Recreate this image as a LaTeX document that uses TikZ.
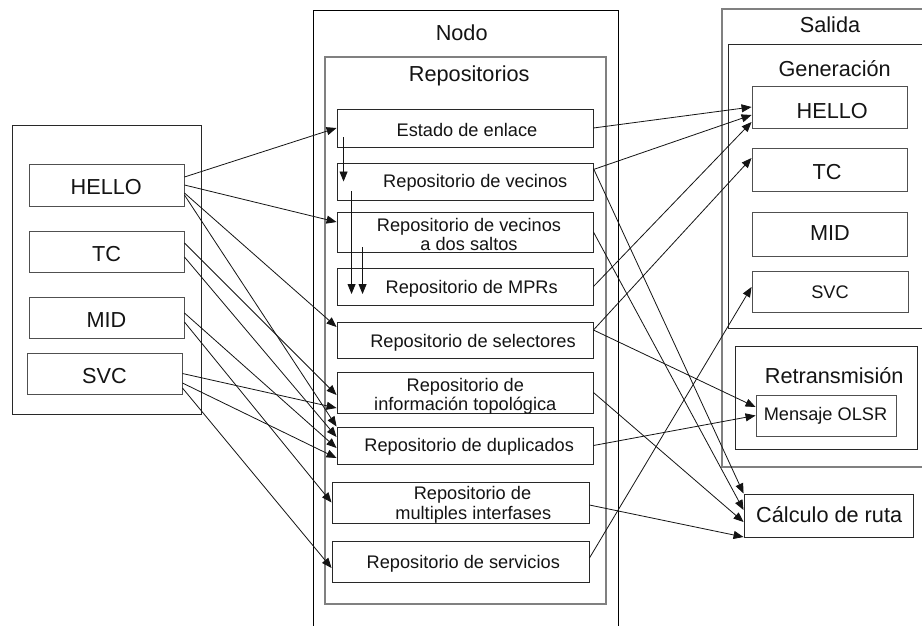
\documentclass[tikz,border=0pt]{standalone}
\usepackage{fontspec}
\setmainfont{Liberation Sans}
\usetikzlibrary{arrows.meta}

\definecolor{frame}{RGB}{40,40,40}
\definecolor{soft}{RGB}{128,128,128}
\definecolor{mid}{RGB}{80,80,80}
\definecolor{ink}{RGB}{20,20,20}

\tikzset{
  box/.style={draw=frame, rectangle, inner sep=0pt, line width=0.9pt},
  softbox/.style={box, draw=soft, line width=1.2pt},
  midbox/.style={box, draw=mid},
  wh/.style 2 args={minimum width=#1pt, minimum height=#2pt},
  txt/.style={inner sep=0pt, anchor=base, text=ink, font=\fontsize{18.2}{20}\selectfont},
  big/.style={txt, font=\fontsize{21.7}{24}\selectfont},
  arr/.style={draw=ink, line width=0.8pt, -{Triangle[length=10pt,width=8pt]}}
}

\begin{document}
\begin{tikzpicture}[x=1pt,y=-1pt]
\useasboundingbox (0,0) rectangle (922,625);
\fill[white] (0,0) rectangle (922,625);
\clip (0,0) rectangle (922,625);

% incoming messages
\node[box, wh={189}{289}] (entrada) at (106.5,269.5) {};
\node[midbox, wh={155}{42}] (lHELLO) at (106.5,185) {};
\node[midbox, wh={155}{41}] (lTC) at (106.5,251.5) {};
\node[midbox, wh={155}{41}] (lMID) at (106.5,317.5) {};
\node[midbox, wh={155}{41}] (lSVC) at (104.5,373.5) {};
\node[big] (t-lHELLO) at (106.2,194.3) {HELLO};
\node[big] (t-lTC) at (106.5,261) {TC};
\node[big] (t-lMID) at (106.5,327) {MID};
\node[big] (t-lSVC) at (104.5,383) {SVC};

% node and its repositories
\node[box, draw=black, wh={305}{690}] (nodo) at (465.5,355) {};
\node[big] (t-nodo) at (461.7,40.7) {Nodo};
\node[softbox, wh={281}{547}] (repos) at (465.5,330.5) {};
\node[big] (t-repos) at (469.2,81.7) {Repositorios};

\node[box, wh={256}{38}] (est) at (465,128) {};
\node[box, wh={256}{37}] (vec) at (465,181.5) {};
\node[box, wh={256}{40}] (dos) at (465,232) {};
\node[box, wh={256}{37}] (mpr) at (465,286.5) {};
\node[box, wh={256}{36}] (sel) at (465,340) {};
\node[box, wh={256}{41}] (top) at (465,392.5) {};
\node[box, wh={256}{37}] (dup) at (465,445.5) {};
\node[box, wh={257}{41}] (mul) at (460.5,502.5) {};
\node[box, wh={257}{41}] (ser) at (460.5,561.5) {};

\node[txt] (t-est) at (467,136) {Estado de enlace};
\node[txt] (t-vec) at (475.3,187.7) {Repositorio de vecinos};
\node[txt] (t-dos1) at (469,231.3) {Repositorio de vecinos};
\node[txt] (t-dos2) at (469,250.7) {a dos saltos};
\node[txt] (t-mpr) at (471.7,293.3) {Repositorio de MPRs};
\node[txt] (t-sel) at (473,347.7) {Repositorio de selectores};
\node[txt] (t-top1) at (465.3,391.7) {Repositorio de};
\node[txt] (t-top2) at (465.3,410.7) {información topológica};
\node[txt] (t-dup) at (469.2,451.7) {Repositorio de duplicados};
\node[txt] (t-mul1) at (472.5,499) {Repositorio de};
\node[txt] (t-mul2) at (473.3,519) {multiples interfases};
\node[txt] (t-ser) at (463.3,568.3) {Repositorio de servicios};

% output side
\node[softbox, wh={278}{458}] (salida) at (861,238) {};
\node[big] (t-salida) at (830,32) {Salida};
\node[box, wh={272}{284}] (gen) at (864,186) {};
\node[big] (t-gen) at (834.7,76.7) {Generación};
\node[midbox, wh={155}{42}] (oHELLO) at (829.5,107) {};
\node[midbox, wh={155}{43}] (oTC) at (829.5,169.5) {};
\node[midbox, wh={155}{44}] (oMID) at (829.5,234) {};
\node[midbox, wh={156}{41}] (oSVC) at (830,291.5) {};
\node[big] (t-oHELLO) at (832.3,118.3) {HELLO};
\node[big] (t-oTC) at (827,179) {TC};
\node[big] (t-oMID) at (830,240) {MID};
\node[txt] (t-oSVC) at (830,298.5) {SVC};

\node[box, wh={182}{103}] (retx) at (826,397.5) {};
\node[big] (t-retx) at (834.2,383.3) {Retransmisión};
\node[midbox, wh={140}{41}] (msg) at (826,415.5) {};
\node[txt] (t-msg) at (825.5,420) {Mensaje OLSR};
\node[box, wh={169}{43}] (calc) at (828.5,515.5) {};
\node[big] (t-calc) at (829.2,522.7) {Cálculo de ruta};

% messages feeding the repositories
\draw[arr] ([yshift=8pt]lHELLO.east) -- (est.west);
\draw[arr] (lHELLO.east) -- ([yshift=10pt]dos.west);
\draw[arr] ([yshift=-8pt]lHELLO.east) -- ([yshift=13pt]sel.west);
\draw[arr] ([yshift=-10pt]lHELLO.east) -- ([yshift=19pt]dup.west);
\draw[arr] ([yshift=8.5pt]lTC.east) -- ([yshift=-2.5pt]top.west);
\draw[arr] ([yshift=-5.5pt]lTC.east) -- ([yshift=8.5pt]dup.west);
\draw[arr] ([yshift=4.5pt]lMID.east) -- ([yshift=-2.5pt]dup.west);
\draw[arr] ([yshift=-4.5pt]lMID.east) -- (mul.west);
\draw[arr] (lSVC.east) -- ([yshift=-15.5pt]top.west);
\draw[arr] ([yshift=-9.5pt]lSVC.east) -- ([yshift=-12.5pt]dup.west);
\draw[arr] ([yshift=-14.5pt]lSVC.east) -- ([yshift=-6.5pt]ser.west);

% links between repositories
\draw[arr] ([xshift=7pt,yshift=-9pt]est.west) -- ([xshift=7pt]vec.west);
\draw[arr] ([xshift=15pt,yshift=-9.5pt]vec.west) -- ([xshift=15pt,yshift=-7.5pt]mpr.west);
\draw[arr] ([xshift=26pt,yshift=-15pt]dos.west) -- ([xshift=26pt,yshift=-7.5pt]mpr.west);

% repositories feeding the outputs
\draw[arr] (est.east) -- (oHELLO.west);
\draw[arr] ([yshift=12pt]vec.east) -- ([yshift=-8pt]oHELLO.west);
\draw[arr] (mpr.east) -- ([yshift=-15pt]oHELLO.west);
\draw[arr] ([yshift=10pt]sel.east) -- ([yshift=11.5pt]oTC.west);
\draw[arr] ([yshift=10pt]sel.east) -- ([yshift=8.5pt]msg.west);
\draw[arr] (dup.east) -- (msg.west);
\draw[arr] ([yshift=13pt]vec.east) -- ([yshift=22pt]calc.west);
\draw[arr] (dos.east) -- ([yshift=5.5pt]calc.west);
\draw[arr] (top.east) -- ([yshift=-6.5pt]calc.west);
\draw[arr] ([yshift=-2.5pt]mul.east) -- ([yshift=-21.5pt]calc.west);
\draw[arr] ([yshift=3.5pt]ser.east) -- ([yshift=4.5pt]oSVC.west);
\end{tikzpicture}
\end{document}
